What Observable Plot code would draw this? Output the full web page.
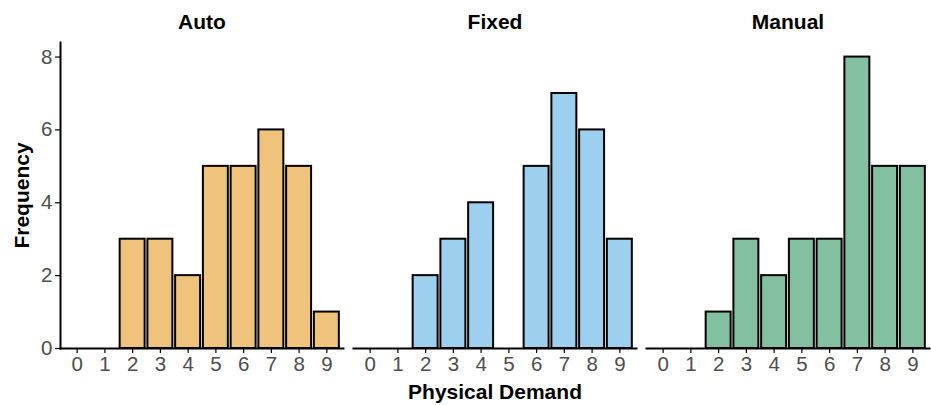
<!DOCTYPE html>
<html><head><meta charset="utf-8">
<script src="https://cdn.jsdelivr.net/npm/d3@7"></script>
<script src="https://cdn.jsdelivr.net/npm/@observablehq/plot@0.6"></script>
<style>
body{margin:0;background:#fff}
g[aria-label="x-axis tick label"], g[aria-label="y-axis tick label"]{fill:#4d4d4d;font-size:20.5px}
g[aria-label="x-axis tick"], g[aria-label="y-axis tick"]{stroke:#333;stroke-width:1.2}
g[aria-label="x-axis label"], g[aria-label="y-axis label"]{font-weight:bold;font-size:21px;fill:#000}
g[aria-label="fx-axis tick label"]{font-weight:bold;font-size:21px;fill:#000}
</style>
</head><body><div id="chart"></div>
<script>
const groups = ["Auto","Fixed","Manual"];
const scores = [0,1,2,3,4,5,6,7,8,9];
const autoCounts = [0,0,3,3,2,5,5,6,5,1];
const fixedCounts = [0,0,2,3,4,0,5,7,6,3];
const manualCounts = [0,0,1,3,2,3,3,8,5,5];
const colors = ["#F0C37C","#9DCFEE","#83BFA1"];
const yTicks = [0,2,4,6,8];

const rows = [];
[autoCounts,fixedCounts,manualCounts].forEach((arr,gi)=>arr.forEach((n,i)=>rows.push({group:groups[gi], score:scores[i], n})));

const chart = Plot.plot({
  width:931, height:405,
  marginLeft:59, marginRight:0, marginTop:42, marginBottom:57,
  style:{fontFamily:"'Liberation Sans', Arial, sans-serif", fontSize:"20px", color:"#000", background:"#fff"},
  fx:{domain:groups, paddingInner:0.034, paddingOuter:0, axis:"top", label:null, tickSize:0, tickPadding:14},
  x:{domain:[-0.6,9.6], ticks:scores, tickFormat:d=>String(d), label:"Physical Demand", labelAnchor:"center", labelArrow:"none", labelOffset:50, tickSize:5, tickPadding:3},
  y:{domain:[0,8.4], ticks:yTicks, label:"Frequency", labelAnchor:"center", labelArrow:"none", labelOffset:46, tickSize:5, tickPadding:3},
  color:{domain:groups, range:colors},
  marks:[
    Plot.rectY(rows,{fx:"group", x1:d=>d.score-0.45, x2:d=>d.score+0.45, y:"n", fill:"group", stroke:"black", strokeWidth:2}),
    Plot.frame({anchor:"bottom", stroke:"black", strokeWidth:2}),
    Plot.frame({anchor:"left", facetAnchor:"left", stroke:"black", strokeWidth:2})
  ]
});
document.getElementById("chart").appendChild(chart);
</script>
</body></html>
